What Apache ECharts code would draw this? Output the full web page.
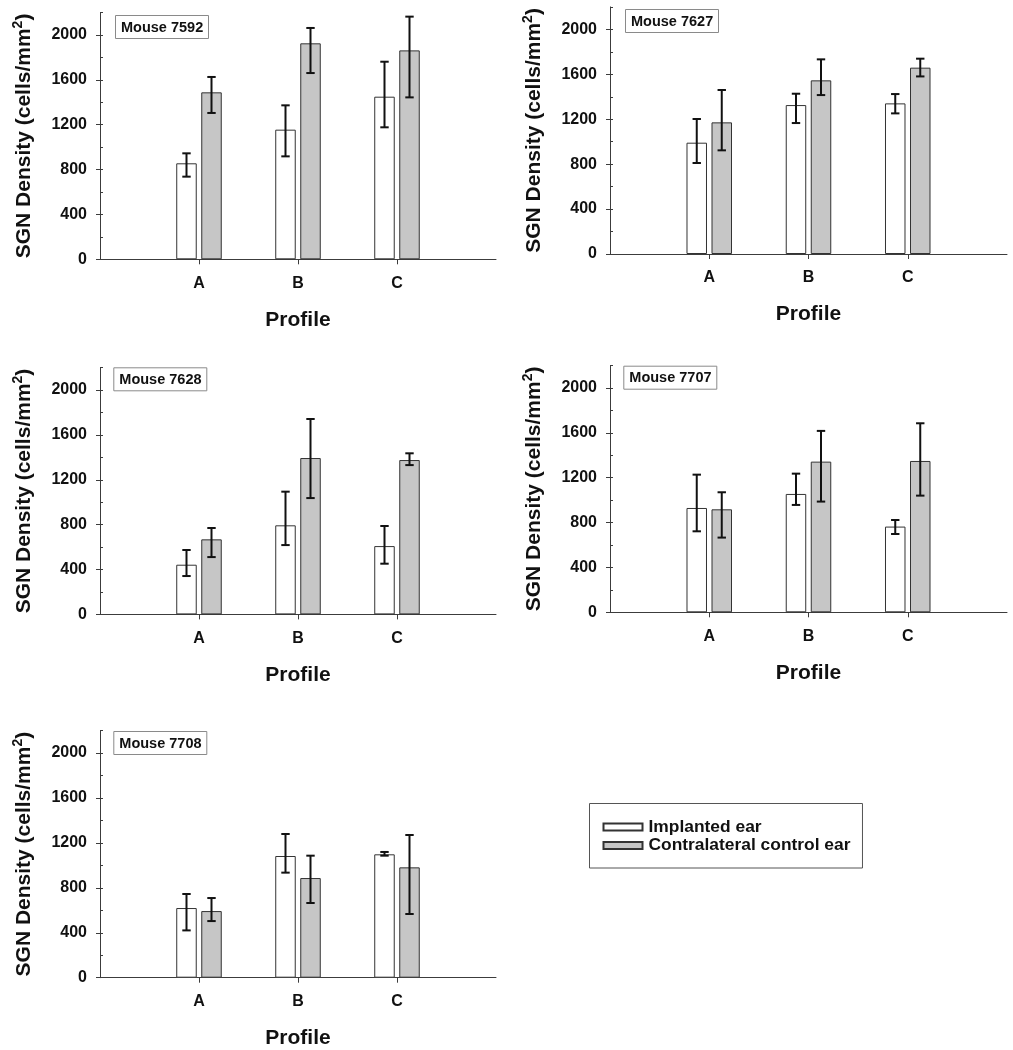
<!DOCTYPE html>
<html>
<head>
<meta charset="utf-8">
<script src="https://cdn.jsdelivr.net/npm/echarts@6/dist/echarts.min.js"></script>
<style>
html,body{margin:0;padding:0;background:#fff;}
#chart{width:1013px;height:1050px;}
</style>
</head>
<body>
<div id="chart"></div>
<script>
// ---------- data ----------
const categories = ['A', 'B', 'C'];
const yTicks = [0, 400, 800, 1200, 1600, 2000];
const mice = ['Mouse 7592', 'Mouse 7627', 'Mouse 7628', 'Mouse 7707', 'Mouse 7708'];
const seriesNames = ['Implanted ear', 'Contralateral control ear'];

const implantedMean = [
  [856, 1156, 1450],
  [991, 1326, 1341],
  [443, 794, 609],
  [930, 1055, 764],
  [620, 1083, 1098]
];
const implantedLow = [
  [737, 918, 1177],
  [810, 1166, 1252],
  [342, 618, 452],
  [722, 957, 698],
  [421, 935, 1086]
];
const implantedHigh = [
  [945, 1373, 1762],
  [1202, 1427, 1424],
  [574, 1094, 788],
  [1227, 1236, 823],
  [745, 1279, 1119]
];
const controlMean = [
  [1489, 1926, 1863],
  [1172, 1546, 1659],
  [669, 1394, 1376],
  [918, 1343, 1349],
  [593, 887, 982]
];
const controlLow = [
  [1305, 1661, 1444],
  [923, 1415, 1581],
  [511, 1037, 1331],
  [666, 987, 1040],
  [504, 665, 567]
];
const controlHigh = [
  [1626, 2063, 2164],
  [1460, 1733, 1739],
  [770, 1742, 1436],
  [1070, 1617, 1685],
  [709, 1086, 1270]
];

// ---------- layout / style ----------
const FONT = 'Liberation Sans, Arial, Helvetica, sans-serif';
const grids = [
  {left: 100, top: 12.6, width: 396, height: 246.7},
  {left: 610, top: 6.9, width: 397, height: 247.1},
  {left: 100, top: 367.6, width: 396, height: 246.8},
  {left: 610, top: 365.5, width: 397, height: 246.8},
  {left: 100, top: 730.5, width: 396, height: 247.2}
];
const titlePos = [[115, 15], [625, 9], [113.3, 367.3], [623.3, 365.7], [113.3, 731]];
const BAR_W = 20.5, BAR_GAP = 4.5;
const OFFS = [-(BAR_W + BAR_GAP) / 2, (BAR_W + BAR_GAP) / 2];
const fills = ['#ffffff', '#c6c6c6'];
const AXIS_COLOR = '#3c3c3c';

function errRenderer(off) {
  return function (params, api) {
    const x = api.value(0);
    const lo = api.coord([x, api.value(1)]);
    const hi = api.coord([x, api.value(2)]);
    const cx = lo[0] + off;
    const cap = 4.2;
    const st = {stroke: '#111', lineWidth: 2};
    return {
      type: 'group',
      children: [
        {type: 'line', shape: {x1: cx, y1: hi[1], x2: cx, y2: lo[1]}, style: st},
        {type: 'line', shape: {x1: cx - cap, y1: hi[1], x2: cx + cap, y2: hi[1]}, style: st},
        {type: 'line', shape: {x1: cx - cap, y1: lo[1], x2: cx + cap, y2: lo[1]}, style: st}
      ]
    };
  };
}

const option = {
  backgroundColor: '#ffffff',
  animation: false,
  textStyle: {fontFamily: FONT},
  title: [],
  grid: [],
  xAxis: [],
  yAxis: [],
  series: [],
  legend: {
    orient: 'vertical',
    left: 589.5,
    top: 803.5,
    padding: [15, 12, 14, 13],
    itemWidth: 39,
    itemHeight: 7,
    itemGap: 1.5,
    icon: 'rect',
    borderColor: '#555',
    borderWidth: 1,
    borderRadius: 0,
    data: seriesNames,
    textStyle: {fontSize: 17.4, lineHeight: 17, fontWeight: 'bold', color: '#111', fontFamily: FONT, padding: [0, 0, 0, 1]}
  }
};

const panelMeans = [implantedMean, controlMean];
const panelLows = [implantedLow, controlLow];
const panelHighs = [implantedHigh, controlHigh];

mice.forEach(function (m, i) {
  option.grid.push(Object.assign({containLabel: false}, grids[i]));
  option.title.push({
    text: m,
    left: titlePos[i][0],
    top: titlePos[i][1],
    padding: [5, 6, 4, 6],
    borderColor: '#8a8a8a',
    borderWidth: 1,
    textStyle: {fontSize: 14.5, fontWeight: 'bold', color: '#111', fontFamily: FONT}
  });
  option.xAxis.push({
    type: 'value', gridIndex: i, min: 0, max: 4,
    axisLine: {show: true, lineStyle: {color: AXIS_COLOR, width: 1}},
    axisTick: {show: true, customValues: [1, 2, 3], length: 5, lineStyle: {color: AXIS_COLOR}},
    axisLabel: {
      customValues: [1, 2, 3], margin: 16,
      formatter: function (v) { return categories[Math.round(v) - 1] || ''; },
      fontSize: 16, fontWeight: 'bold', color: '#111', fontFamily: FONT
    },
    splitLine: {show: false},
    name: 'Profile', nameLocation: 'middle', nameGap: 50,
    nameTextStyle: {fontSize: 21, fontWeight: 'bold', color: '#111', fontFamily: FONT}
  });
  // labelled y axis (outer ticks)
  option.yAxis.push({
    type: 'value', gridIndex: i, min: 0, max: 2200, position: 'left',
    axisLine: {show: true, lineStyle: {color: AXIS_COLOR, width: 1}},
    axisTick: {show: true, customValues: yTicks, length: 4, lineStyle: {color: AXIS_COLOR}},
    axisLabel: {
      customValues: yTicks, margin: 13, fontSize: 16, fontWeight: 'bold', color: '#111', fontFamily: FONT,
      formatter: function (v) { return String(v); }
    },
    splitLine: {show: false},
    name: 'SGN Density (cells/mm{s|2})', nameLocation: 'middle', nameRotate: 90, nameGap: 62,
    nameTextStyle: {
      fontSize: 21, fontWeight: 'bold', color: '#111', fontFamily: FONT, lineHeight: 27,
      rich: {s: {fontSize: 14, fontWeight: 'bold', color: '#111', fontFamily: FONT, lineHeight: 14, verticalAlign: 'top'}}
    }
  });
  // inner ticks every 200
  option.yAxis.push({
    type: 'value', gridIndex: i, min: 0, max: 2200, interval: 200, position: 'left',
    axisLine: {show: false},
    axisTick: {show: true, inside: true, length: 3, lineStyle: {color: AXIS_COLOR}},
    axisLabel: {show: false},
    splitLine: {show: false}
  });
  for (let s = 0; s < 2; s++) {
    option.series.push({
      type: 'bar', name: seriesNames[s],
      xAxisIndex: i, yAxisIndex: 2 * i,
      barWidth: BAR_W, barGap: (BAR_GAP / BAR_W * 100).toFixed(1) + '%',
      itemStyle: {color: fills[s], borderColor: '#333', borderWidth: 1},
      emphasis: {disabled: true},
      data: panelMeans[s][i].map(function (v, k) { return [k + 1, v]; }),
      z: 2
    });
  }
  for (let s = 0; s < 2; s++) {
    option.series.push({
      type: 'custom',
      xAxisIndex: i, yAxisIndex: 2 * i,
      renderItem: errRenderer(OFFS[s]),
      encode: {x: 0, y: [1, 2]},
      data: panelLows[s][i].map(function (v, k) { return [k + 1, v, panelHighs[s][i][k]]; }),
      z: 5, silent: true
    });
  }
});

const chart = echarts.init(document.getElementById('chart'), null, {renderer: 'canvas'});
chart.setOption(option);
</script>
</body>
</html>
